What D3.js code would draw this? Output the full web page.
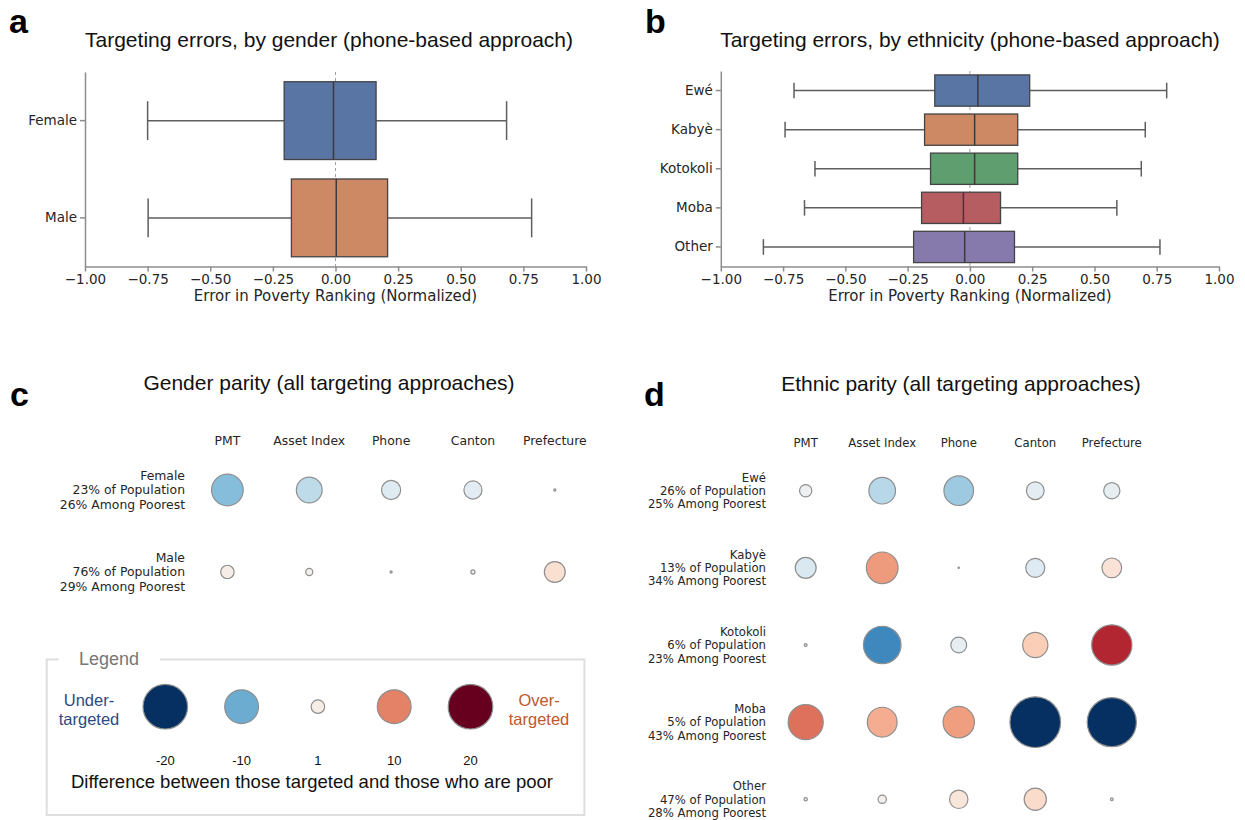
<!DOCTYPE html>
<html lang="en">
<head>
<meta charset="UTF-8">
<title>Targeting errors and parity</title>
<script src="https://d3js.org/d3.v7.min.js"></script>
<style>
  body { margin: 0; background: #fff; }
  .mpl { font-family: "DejaVu Sans", sans-serif; fill: #262626; }
  .arial { font-family: "Liberation Sans", Arial, sans-serif; fill: #111; }
  .panel-letter { font-family: "Liberation Sans", Arial, sans-serif; font-weight: bold; font-size: 34px; fill: #000; }
  .axis path, .axis line { stroke: #8c8c8c; stroke-width: 1.5px; }
  .axis text { font-family: "DejaVu Sans", sans-serif; font-size: 13.5px; fill: #262626; }
</style>
</head>
<body>
<svg width="1245" height="820"></svg>
<script>
// ---- panel a : phone-based errors by gender
const genderCats = ["Female", "Male"];
const genderLow = [-0.75, -0.748];
const genderQ1 = [-0.205, -0.176];
const genderMedian = [-0.008, 0.003];
const genderQ3 = [0.162, 0.208];
const genderHigh = [0.683, 0.783];

// ---- panel b : phone-based errors by ethnicity
const ethnicCats = ["Ewé", "Kabyè", "Kotokoli", "Moba", "Other"];
const ethnicLow = [-0.706, -0.742, -0.622, -0.664, -0.829];
const ethnicQ1 = [-0.141, -0.182, -0.158, -0.194, -0.226];
const ethnicMedian = [0.032, 0.019, 0.019, -0.026, -0.021];
const ethnicQ3 = [0.240, 0.192, 0.192, 0.123, 0.179];
const ethnicHigh = [0.790, 0.704, 0.688, 0.590, 0.763];

const errorTicks = [-1, -0.75, -0.5, -0.25, 0, 0.25, 0.5, 0.75, 1];

// ---- panels c and d : parity (targeted share minus poor share, points)
const approaches = ["PMT", "Asset Index", "Phone", "Canton", "Prefecture"];

const genderPopShare = [23, 76];
const genderPoorShare = [26, 29];
const genderGap = [
  [-8.5, -5.1, -2.4, -2.1, -0.01],
  [1.0, 0.2, 0.01, 0.05, 3.0]
];

const ethnicPopShare = [26, 13, 6, 5, 47];
const ethnicPoorShare = [25, 34, 23, 43, 28];
const ethnicGap = [
  [-0.8, -5.5, -7.2, -2.0, -1.6],
  [-3.0, 8.5, 0.003, -2.4, 2.6],
  [0.02, -13, -1.5, 4.8, 15.5],
  [11, 7.3, 8.3, -27.5, -25.5],
  [0.03, 0.3, 2.2, 3.5, 0.02]
];

const legendValues = [-20, -10, 1, 10, 20];

document.addEventListener("DOMContentLoaded", function() {
  const svg = d3.select("svg");

  const boxColors = ["#5975a4", "#cc8963", "#5f9e6e", "#b55d60", "#857aab"];

  function boxPanel(p) {
    const g = svg.append("g");
    const x = d3.scaleLinear().domain([-1, 1]).range(p.xRange);
    const y = d3.scaleBand().domain(p.cats).range(p.yRange)
                .paddingInner(0.2).paddingOuter(0.1);
    const bw = y.bandwidth();

    // zero reference line
    g.append("line")
     .attr("x1", x(0)).attr("x2", x(0))
     .attr("y1", p.yRange[0]).attr("y2", p.yRange[1])
     .attr("stroke", "#a0a0a0").attr("stroke-width", 1)
     .attr("stroke-dasharray", "3,3");

    const rows = p.cats.map((c, i) => ({
      cat: c, lo: p.low[i], q1: p.q1[i], med: p.med[i], q3: p.q3[i], hi: p.high[i], color: boxColors[i]
    }));

    const bx = g.selectAll("g.box").data(rows).enter().append("g").attr("class", "box");
    const cy = d => y(d.cat) + bw / 2;

    // whiskers
    bx.append("line").attr("x1", d => x(d.lo)).attr("x2", d => x(d.q1))
      .attr("y1", cy).attr("y2", cy);
    bx.append("line").attr("x1", d => x(d.q3)).attr("x2", d => x(d.hi))
      .attr("y1", cy).attr("y2", cy);
    bx.append("line").attr("x1", d => x(d.lo)).attr("x2", d => x(d.lo))
      .attr("y1", d => cy(d) - bw / 4).attr("y2", d => cy(d) + bw / 4);
    bx.append("line").attr("x1", d => x(d.hi)).attr("x2", d => x(d.hi))
      .attr("y1", d => cy(d) - bw / 4).attr("y2", d => cy(d) + bw / 4);
    bx.selectAll("line").attr("stroke", "#5e5e5e").attr("stroke-width", 1.5);

    bx.append("rect")
      .attr("x", d => x(d.q1)).attr("width", d => x(d.q3) - x(d.q1))
      .attr("y", d => y(d.cat)).attr("height", bw)
      .attr("fill", d => d.color)
      .attr("stroke", "#444").attr("stroke-width", 1.3);

    bx.append("line")
      .attr("x1", d => x(d.med)).attr("x2", d => x(d.med))
      .attr("y1", d => y(d.cat)).attr("y2", d => y(d.cat) + bw)
      .attr("stroke", "#3a3a3a").attr("stroke-width", 1.5);

    g.append("g").attr("class", "axis")
     .attr("transform", `translate(0,${p.yRange[1]})`)
     .call(d3.axisBottom(x).tickValues(errorTicks).tickFormat(d3.format(".2f"))
             .tickSize(5).tickSizeOuter(0).tickPadding(3));

    g.append("g").attr("class", "axis")
     .attr("transform", `translate(${p.xRange[0]},0)`)
     .call(d3.axisLeft(y).tickSize(5).tickSizeOuter(0).tickPadding(3));

    g.append("text").attr("class", "mpl")
     .attr("x", (p.xRange[0] + p.xRange[1]) / 2).attr("y", p.yRange[1] + 34)
     .attr("text-anchor", "middle").attr("font-size", 15)
     .text("Error in Poverty Ranking (Normalized)");

    g.append("text").attr("class", "arial")
     .attr("x", p.titleX).attr("y", 47)
     .attr("text-anchor", "middle").attr("font-size", 21)
     .text(p.title);

    g.append("text").attr("class", "panel-letter")
     .attr("x", p.letterX).attr("y", 33).text(p.letter);
  }

  boxPanel({
    cats: genderCats, low: genderLow, q1: genderQ1, med: genderMedian, q3: genderQ3, high: genderHigh,
    xRange: [85, 586], yRange: [72, 266.5],
    title: "Targeting errors, by gender (phone-based approach)", titleX: 329,
    letter: "a", letterX: 9
  });

  boxPanel({
    cats: ethnicCats, low: ethnicLow, q1: ethnicQ1, med: ethnicMedian, q3: ethnicQ3, high: ethnicHigh,
    xRange: [720.8, 1219], yRange: [71, 266.5],
    title: "Targeting errors, by ethnicity (phone-based approach)", titleX: 970,
    letter: "b", letterX: 645
  });

  // bubble scales shared by c, d and the legend
  const radius = d3.scalePow().exponent(0.4).domain([0, 20]).range([0, 22.3]);
  const color = d3.scaleSequential(d3.interpolateRdBu).domain([20, -20]).clamp(true);

  function bubblePanel(p) {
    const g = svg.append("g");
    const x = d3.scalePoint().domain(approaches).range(p.xRange);
    const y = d3.scalePoint().domain(p.groups).range(p.yRange);

    g.selectAll("text.head").data(approaches).enter().append("text")
     .attr("class", "mpl head")
     .attr("x", d => x(d)).attr("y", p.headY)
     .attr("text-anchor", "middle").attr("font-size", p.fs)
     .text(d => d);

    p.groups.forEach((grp, i) => {
      const lines = [grp, p.pop[i] + "% of Population", p.poor[i] + "% Among Poorest"];
      const t = g.append("text").attr("class", "mpl")
                 .attr("text-anchor", "end").attr("font-size", p.fs);
      lines.forEach((s, k) => {
        t.append("tspan").attr("x", p.labelX)
         .attr("y", y(grp) + (k - 1) * p.lineH + p.fs * 0.36)
         .text(s);
      });

      g.selectAll(null).data(p.gap[i]).enter().append("circle")
       .attr("cx", (d, j) => x(approaches[j]))
       .attr("cy", y(grp))
       .attr("r", d => radius(Math.abs(d)))
       .attr("fill", d => color(d))
       .attr("stroke", "#8f8f8f").attr("stroke-width", 1.2);
    });

    g.append("text").attr("class", "arial")
     .attr("x", p.titleX).attr("y", p.titleY)
     .attr("text-anchor", "middle").attr("font-size", 21)
     .text(p.title);

    g.append("text").attr("class", "panel-letter")
     .attr("x", p.letterX).attr("y", 406).text(p.letter);
  }

  bubblePanel({
    groups: ["Female", "Male"], pop: genderPopShare, poor: genderPoorShare, gap: genderGap,
    xRange: [227.4, 554.8], yRange: [490, 572], headY: 444.5, labelX: 185, fs: 12.4, lineH: 14.2,
    title: "Gender parity (all targeting approaches)", titleX: 329, titleY: 390,
    letter: "c", letterX: 10
  });

  bubblePanel({
    groups: ethnicCats, pop: ethnicPopShare, poor: ethnicPoorShare, gap: ethnicGap,
    xRange: [805.7, 1111.8], yRange: [490.7, 799.3], headY: 447, labelX: 766, fs: 11.7, lineH: 13.3,
    title: "Ethnic parity (all targeting approaches)", titleX: 961, titleY: 391,
    letter: "d", letterX: 644
  });

  // ---- legend box
  const lg = svg.append("g");
  lg.append("path")
    .attr("d", "M58.5,659.5 H46.7 V815 H584.4 V659.5 H160")
    .attr("fill", "none").attr("stroke", "#dedede").attr("stroke-width", 2);
  lg.append("text").attr("class", "arial")
    .attr("x", 109).attr("y", 664.5).attr("text-anchor", "middle")
    .attr("font-size", 18).style("fill", "#767676").text("Legend");

  const lx = d3.scalePoint().domain(legendValues).range([165.3, 470.5]);
  lg.selectAll("circle").data(legendValues).enter().append("circle")
    .attr("cx", d => lx(d)).attr("cy", 706.7)
    .attr("r", d => radius(Math.abs(d)))
    .attr("fill", d => color(d))
    .attr("stroke", "#8f8f8f").attr("stroke-width", 1.2);
  lg.selectAll("text.val").data(legendValues).enter().append("text")
    .attr("class", "arial val")
    .attr("x", d => lx(d)).attr("y", 764.5).attr("text-anchor", "middle")
    .attr("font-size", 13).text(d => d);

  const sideText = (x, lines, fill) => {
    const t = lg.append("text").attr("class", "arial").attr("text-anchor", "middle")
                .attr("font-size", 16.5).style("fill", fill);
    lines.forEach((s, k) => t.append("tspan").attr("x", x).attr("y", 706 + k * 18.5).text(s));
  };
  sideText(89, ["Under-", "targeted"], "#2e4a80");
  sideText(539, ["Over-", "targeted"], "#c2572b");

  lg.append("text").attr("class", "arial")
    .attr("x", 312).attr("y", 788).attr("text-anchor", "middle")
    .attr("font-size", 18.5).text("Difference between those targeted and those who are poor");
});
</script>
</body>
</html>
